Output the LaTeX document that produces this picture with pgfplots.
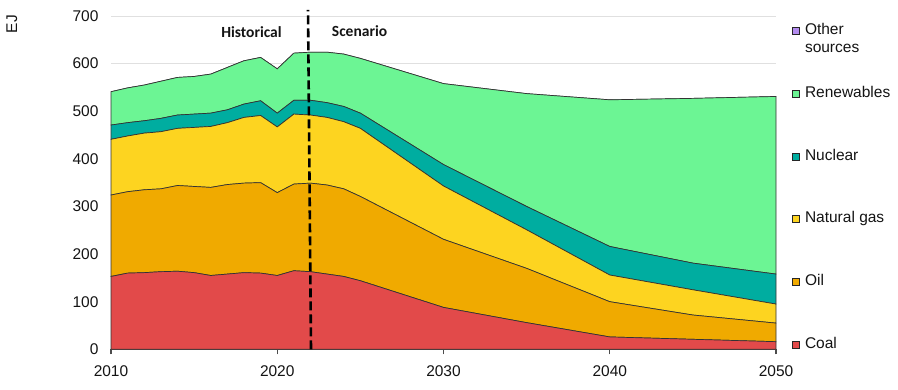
\documentclass[border=0pt]{standalone}
\usepackage{pgfplots}
\pgfplotsset{compat=1.18}
\usepackage{pgfplotstable}
\usepackage{fontspec}
\setmainfont{Liberation Sans}
\newfontfamily\carlito{Carlito}

\definecolor{coal}{RGB}{226,74,74}
\definecolor{oil}{RGB}{240,170,0}
\definecolor{gas}{RGB}{253,212,32}
\definecolor{nuc}{RGB}{0,173,160}
\definecolor{ren}{RGB}{108,245,148}
\definecolor{oth}{RGB}{180,140,240}
\definecolor{txt}{RGB}{20,20,20}

\pgfplotstableread{
year coal oil gas nuc ren oth
2010 153 171 117 30 70 0
2011 160 171 117 28 73 0
2012 161 174 119 26 75 0
2013 163 174 120 28 78 0
2014 164 180 120 28 79 0
2015 161 181 124 28 79 0
2016 155 185 128 28 82 0
2017 158 188 130 27 89 0
2018 161 188 138 28 91 0
2019 160 190 141 31 91 0
2020 155 174 138 29 93 0
2021 165 182 147 29 99 0
2022 163 186 143 31 101 0
2023 158 187 142 31 106 0
2024 153 184 141 32 110 0
2025 144 177 143 32 115 0
2030 88 143 112 45 170 0
2035 56 114 81 49 237 0
2040 26 74 56 60 308 0
2045 21 51 53 56 346 0
2050 16 39 40 63 373 0
}\data

\begin{document}
\begin{tikzpicture}
\path[use as bounding box] (0,0) rectangle (898bp,390bp);
\begin{axis}[
  at={(111bp,40.7bp)}, anchor=south west,
  scale only axis, width=665bp, height=333.3bp,
  xmin=2010, xmax=2050, ymin=0, ymax=700,
  xtick={2010,2020,2030,2040,2050},
  ytick={0,100,...,700},
  stack plots=y,
  clip=false,
  axis x line*=bottom, axis y line*=left,
  y axis line style={draw=none},
  x axis line style={draw=black!70, line width=1.2pt},
  ytick style={draw=none},
  xtick style={draw=black!70, line width=1.2pt},
  tick align=outside,
  major tick length=5bp,
  ymajorgrids,
  grid style={black!12, line width=1pt},
  /pgf/number format/assume math mode=true,
  /pgf/number format/1000 sep={},
  tick label style={font=\fontsize{15.5bp}{18bp}\selectfont, text=txt},
  xticklabel style={yshift=-8bp},
  yticklabel style={xshift=-4bp},
  ylabel={EJ},
  ylabel style={at={(axis description cs:-0.149,0.976)}, anchor=center, font=\fontsize{15.5bp}{17bp}\selectfont, text=txt},
  reverse legend,
  legend cell align=left,
  legend image code/.code={\draw[#1, draw=black!85, line width=0.8pt] (0bp,-3.5bp) rectangle (7bp,3.5bp);},
  legend style={draw=none, fill=none, at={(axis description cs:1.0236,0.981)}, anchor=north west,
    inner sep=0pt, outer sep=0pt, row sep=45.2bp, column sep=3.5bp,
    font=\fontsize{15.5bp}{18bp}\selectfont, text=txt,
    nodes={inner sep=2bp, text height=10.5bp, text depth=3bp}},
  every axis plot/.append style={draw=black!80, line width=0.7pt, mark=none},
]
\addplot[fill=coal] table[x=year,y=coal]{\data} \closedcycle;
\addplot[fill=oil] table[x=year,y=oil]{\data} \closedcycle;
\addplot[fill=gas] table[x=year,y=gas]{\data} \closedcycle;
\addplot[fill=nuc] table[x=year,y=nuc]{\data} \closedcycle;
\addplot[fill=ren] table[x=year,y=ren]{\data} \closedcycle;
\addplot[fill=oth] table[x=year,y=oth]{\data} \closedcycle;
\legend{Coal,Oil,Natural gas,Nuclear,Renewables,{\smash{\begin{tabular}[t]{@{}l@{}}Other\\sources\end{tabular}}}}
\coordinate (dA) at (axis cs:2022.03,0);
\coordinate (dB) at (axis cs:2021.85,713);
\coordinate (hL) at (axis cs:2018.45,667);
\coordinate (sL) at (axis cs:2024.95,669);
\end{axis}
\draw[black, line width=2.6bp, dash pattern=on 9bp off 4bp] (dA) -- (dB);
\node[font=\carlito\bfseries\fontsize{15.5bp}{18bp}\selectfont, text=txt] at (hL) {Historical};
\node[font=\carlito\bfseries\fontsize{15.5bp}{18bp}\selectfont, text=txt] at (sL) {Scenario};
\end{tikzpicture}
\end{document}
